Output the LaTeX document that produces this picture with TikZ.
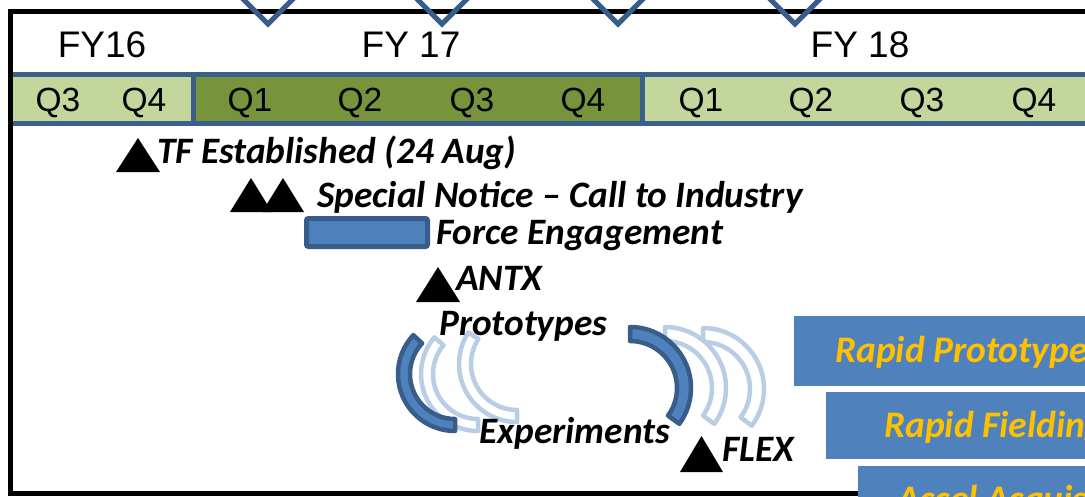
\documentclass[tikz,border=0pt]{standalone}
\usepackage{fontspec}
\setmainfont{Carlito}
\newfontfamily\arialf{Liberation Sans}
\usetikzlibrary{calc}
\definecolor{lgreen}{HTML}{C3D69B}
\definecolor{dgreen}{HTML}{77933C}
\definecolor{barblue}{HTML}{3A5F8B}
\definecolor{fillblue}{HTML}{4F81BD}
\definecolor{edgeblue}{HTML}{385D8A}
\definecolor{lightblue}{HTML}{B9CDE5}
\definecolor{gold}{HTML}{FFC000}
\newcommand{\blockarc}[7]{%
  \draw[#1] ($(#2,#3)+({#6*cos(#4)},{-#6*sin(#4)})$)
    arc[start angle={-(#4)}, end angle={-(#5)}, radius=#6]
    -- ($(#2,#3)+({#7*cos(#5)},{-#7*sin(#5)})$)
    arc[start angle={-(#5)}, end angle={-(#4)}, radius=#7] -- cycle;}
\tikzset{
  bi/.style={inner sep=0pt, anchor=base west, font=\fontsize{37.3}{40}\selectfont\bfseries\itshape},
  boxtext/.style={inner sep=0pt, anchor=base west, text=gold, font=\fontsize{37.5}{40}\selectfont\bfseries\itshape},
  qlab/.style={inner sep=0pt, anchor=base, font=\arialf\fontsize{33.5}{36}\selectfont},
  fylab/.style={inner sep=0pt, anchor=base, font=\arialf\fontsize{37}{40}\selectfont},
  barline/.style={draw=barblue, line width=5pt},
  chev/.style={draw=edgeblue, line width=5pt},
  darkarc/.style={fill=fillblue, draw=edgeblue, line width=4.5pt, line join=round},
  lightarc/.style={fill=white, draw=lightblue, line width=4.5pt, line join=round},
}
\begin{document}
\begin{tikzpicture}[x=1pt,y=-1pt]
\useasboundingbox (0,0) rectangle (1085,496);
\clip (0,0) rectangle (1085,496);
% frame
\draw[line width=5pt] (10.5,11) rectangle (1100,493);
% chevrons
\foreach \t in {268,442,618,795}{
  \draw[chev] (\t-32,-8) -- (\t,24) -- (\t+32,-8);
}
% quarter bar
\fill[lgreen] (13,74.5) rectangle (1090,123);
\fill[dgreen] (193,74.5) rectangle (642,123);
\draw[barline] (13,74.5) -- (1090,74.5);
\draw[barline] (13,123) -- (1090,123);
\draw[barline] (193,74.5) -- (193,123);
\draw[barline] (642,74.5) -- (642,123);
% FY labels
\node[fylab] (fy16) at (102,57) {FY16};
\node[fylab] (fy17) at (411,57) {FY 17};
\node[fylab] (fy18) at (860,57) {FY 18};
% quarter labels
\node[qlab] (q3a) at (58,111) {Q3};
\node[qlab] (q4a) at (144,111) {Q4};
\node[qlab] (q1b) at (250,111) {Q1};
\node[qlab] (q2b) at (360,111) {Q2};
\node[qlab] (q3b) at (472,111) {Q3};
\node[qlab] (q4b) at (583,111) {Q4};
\node[qlab] (q1c) at (701,111) {Q1};
\node[qlab] (q2c) at (811,111) {Q2};
\node[qlab] (q3c) at (922,111) {Q3};
\node[qlab] (q4c) at (1034,111) {Q4};
% milestones
\fill (116,172) -- (160,172) -- (138,138) -- cycle;
\node[bi] (tf) at (157,163) {TF Established (24 Aug)};
\fill (230,212) -- (272,212) -- (251,178) -- cycle;
\fill (262,212) -- (304,212) -- (283,178) -- cycle;
\node[bi] (sn) at (317,207) {Special Notice -- Call to Industry};
\draw[fill=fillblue, draw=edgeblue, line width=5pt, rounded corners=2pt] (306.5,218.5) rectangle (427.5,246.5);
\node[bi] (fe) at (436,244) {Force Engagement};
\fill (416,302) -- (460,302) -- (438,267) -- cycle;
\node[bi] (antx) at (456,290) {ANTX};
% arcs
\blockarc{lightarc}{517}{364}{147}{270}{58}{46}
\blockarc{lightarc}{478}{374}{140}{270}{57}{45}
\blockarc{darkarc}{455}{374}{137}{270}{57}{45}
\blockarc{lightarc}{703}{389}{90}{-37}{61}{47}
\blockarc{lightarc}{665}{388}{90}{-36}{61}{47}
\blockarc{darkarc}{630}{388}{90}{-36}{61}{47}
\node[bi] (proto) at (439,335) {Prototypes};
\node[bi] (exp) at (479,443) {Experiments};
\fill (680,472) -- (723,472) -- (701.5,436) -- cycle;
\node[bi] (flex) at (722,461) {FLEX};
% right boxes
\fill[fillblue] (794,316) rectangle (1090,386);
\node[boxtext] (rp) at (835,362) {Rapid Prototype};
\fill[fillblue] (826,392) rectangle (1090,459);
\node[boxtext] (rf) at (884,437) {Rapid Fielding};
\fill[fillblue] (858,466) rectangle (1090,500);
\node[boxtext] (aa) at (897,511) {Accel Acquisition};
\end{tikzpicture}
\end{document}
